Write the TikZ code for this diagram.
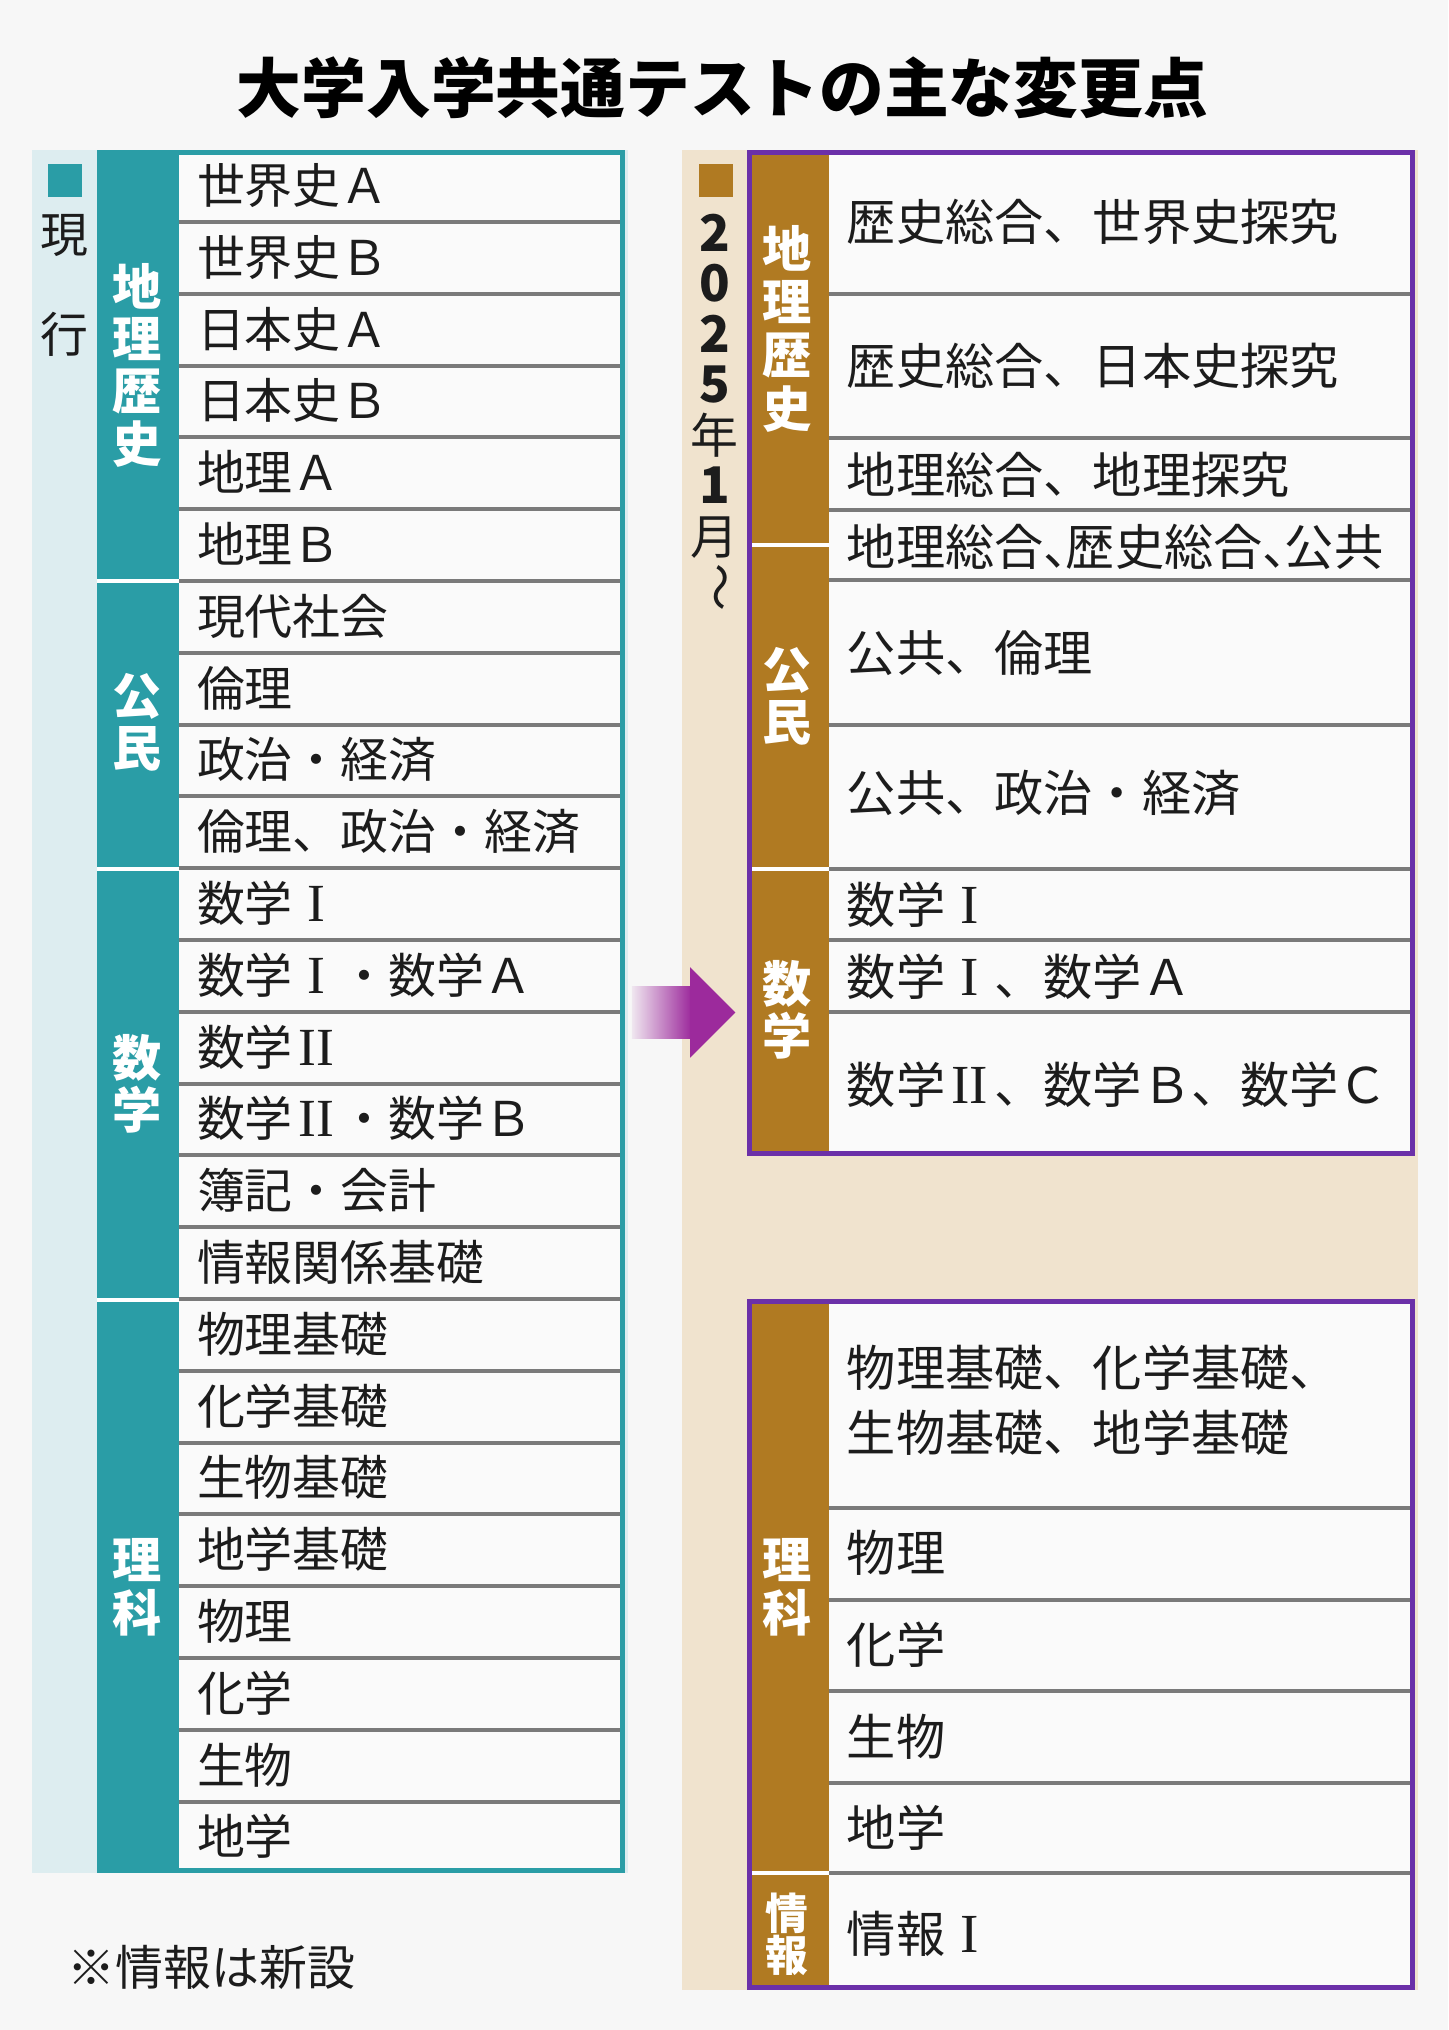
\documentclass[tikz,border=0pt]{standalone}
\usepackage{fontspec}
\setmainfont{Noto Sans CJK JP}
\newfontfamily\romfont[Scale=1.12]{Liberation Serif}
\newcommand\RI{\makebox[1em]{\romfont I}}
\newcommand\RII{\makebox[1em]{\romfont II}}
\newcommand\hcomma{\makebox[0.45em][l]{、}}
\definecolor{bg}{HTML}{F7F7F7}
\definecolor{lightblue}{HTML}{DDEDF0}
\definecolor{tealc}{HTML}{2A9DA6}
\definecolor{beige}{HTML}{F0E3CE}
\definecolor{brownc}{HTML}{B07A22}
\definecolor{purp}{HTML}{6B30A8}
\definecolor{arrowc}{HTML}{9C2A9C}
\definecolor{sepg}{HTML}{7A7A7A}
\definecolor{txt}{HTML}{1C1C1C}
\definecolor{cellw}{HTML}{FAFAFA}
\begin{document}
\begin{tikzpicture}[x=1pt,y=-1pt,
  lcell/.style={anchor=west,inner sep=0pt,text=txt,font=\fontsize{37}{40}\selectfont,text height=32pt,text depth=5pt},
  rcell/.style={anchor=west,inner sep=0pt,text=txt,font=\fontsize{38}{40}\selectfont,text height=33pt,text depth=5pt},
  catlab/.style={inner sep=0pt,text=white,align=center,font=\fontsize{38}{40.5}\selectfont\bfseries},
  sepline/.style={draw=sepg,line width=3pt},
  catsep/.style={draw=white,line width=3pt},
  vchar/.style={inner sep=0pt,text=txt,font=\fontsize{37}{40}\selectfont}]
% canvas
\useasboundingbox (0,0) rectangle (1118.5,1568);
\fill[bg] (0,0) rectangle (1118.5,1568);
% title
\node[inner sep=0pt,text=black,font=\fontsize{50}{52}\selectfont\bfseries] (title) at (558,68) {大学入学共通テストの主な変更点};
% panels
\fill[lightblue] (25,116) rectangle (485,1447);
\fill[beige] (527,116) rectangle (1095,1537);
% ---------------- left: current ----------------
\fill[tealc] (37,127) rectangle (63,152);
\node[vchar] (gen) at (50,182) {現};
\node[vchar] (gyo) at (50,258) {行};
\fill[tealc] (75,116) rectangle (138,1447);
\fill[cellw] (138,116) rectangle (483,1447);
\foreach \k in {1,...,23}{
  \pgfmathsetmacro{\yy}{116+\k*55.458}
  \draw[sepline] (138,\yy) -- (481,\yy);
}
\draw[tealc,line width=4pt] (77,118) rectangle (481,1445);
\foreach \yy in {449,671,1004}{\draw[catsep] (75,\yy) -- (138,\yy);}
\foreach \t [count=\i from 0] in {世界史Ａ,世界史Ｂ,日本史Ａ,日本史Ｂ,地理Ａ,地理Ｂ,現代社会,倫理,政治・経済,倫理、政治・経済,数学\RI,数学\RI・数学Ａ,数学\RII,数学\RII・数学Ｂ,簿記・会計,情報関係基礎,物理基礎,化学基礎,生物基礎,地学基礎,物理,化学,生物,地学}{
  \pgfmathsetmacro{\yy}{116+(\i+0.5)*55.458}
  \node[lcell] (l\i) at (152,\yy) {\t};
}
\node[catlab] (lc1) at (106,282) {地\\理\\歴\\史};
\node[catlab] (lc2) at (106,558) {公\\民};
\node[catlab] (lc3) at (106,837) {数\\学};
\node[catlab] (lc4) at (106,1226) {理\\科};
\node[lcell] (note) at (52,1520) {※情報は新設};
% ---------------- arrow ----------------
\coordinate (arrL) at (488,782);
\coordinate (arrR) at (568,782);
\shade[left color=arrowc!8!bg,right color=arrowc] (arrL) ++(0,-20) rectangle (534,802);
\fill[arrowc] (533,747) -- (arrR) -- (533,817) -- cycle;
% ---------------- right: 2025 ----------------
\fill[brownc] (540,127) rectangle (566,152);
\node[inner sep=0pt,text=txt,align=center,font=\fontsize{37}{39}\selectfont,anchor=north] (date) at (552,165)
  {{\bfseries\fontsize{39}{39}\selectfont 2}\\{\bfseries\fontsize{39}{39}\selectfont 0}\\{\bfseries\fontsize{39}{39}\selectfont 2}\\{\bfseries\fontsize{39}{39}\selectfont 5}\\年\\{\bfseries\fontsize{39}{39}\selectfont 1}\\月};
\node[vchar,rotate=-90] (tilde) at (552,454) {～};
% box 1
\fill[cellw] (577,116) rectangle (1093,893);
\fill[brownc] (577,116) rectangle (640,893);
\foreach \yy in {227,338,394,448,560,671,726,782}{\draw[sepline] (640,\yy) -- (1093,\yy);}
\foreach \yy in {421,671}{\draw[catsep] (577,\yy) -- (640,\yy);}
\draw[purp,line width=4pt] (579,118) rectangle (1091,891);
\node[catlab,font=\fontsize{38}{41}\selectfont\bfseries] (rc1) at (608,254) {地\\理\\歴\\史};
\node[catlab] (rc2) at (608,538) {公\\民};
\node[catlab] (rc3) at (608,780) {数\\学};
\node[rcell] (r1) at (654,172) {歴史総合、世界史探究};
\node[rcell] (r2) at (654,283) {歴史総合、日本史探究};
\node[rcell] (r3) at (654,367) {地理総合、地理探究};
\node[rcell] (r4) at (654,423) {地理総合\hcomma 歴史総合\hcomma 公共};
\node[rcell] (r5) at (654,505) {公共、倫理};
\node[rcell] (r6) at (654,613) {公共、政治・経済};
\node[rcell] (r7) at (654,699) {数学\RI};
\node[rcell] (r8) at (654,755) {数学\RI、数学Ａ};
\node[rcell] (r9) at (654,838) {数学\RII、数学Ｂ、数学Ｃ};
% box 2
\fill[cellw] (577,1003) rectangle (1093,1537);
\fill[brownc] (577,1003) rectangle (640,1537);
\foreach \yy in {1165,1236,1306,1377,1447}{\draw[sepline] (640,\yy) -- (1093,\yy);}
\draw[catsep] (577,1447) -- (640,1447);
\draw[purp,line width=4pt] (579,1005) rectangle (1091,1535);
\node[catlab] (rc4) at (608,1226) {理\\科};
\node[catlab,font=\fontsize{33}{33}\selectfont\bfseries] (rc5) at (608,1494) {情\\報};
\node[rcell] (r10) at (654,1057) {物理基礎、化学基礎、};
\node[rcell] (r11) at (654,1107) {生物基礎、地学基礎};
\node[rcell] (r12) at (654,1200) {物理};
\node[rcell] (r13) at (654,1271) {化学};
\node[rcell] (r14) at (654,1342) {生物};
\node[rcell] (r15) at (654,1412) {地学};
\node[rcell] (r16) at (654,1494) {情報\RI};
\end{tikzpicture}
\end{document}
